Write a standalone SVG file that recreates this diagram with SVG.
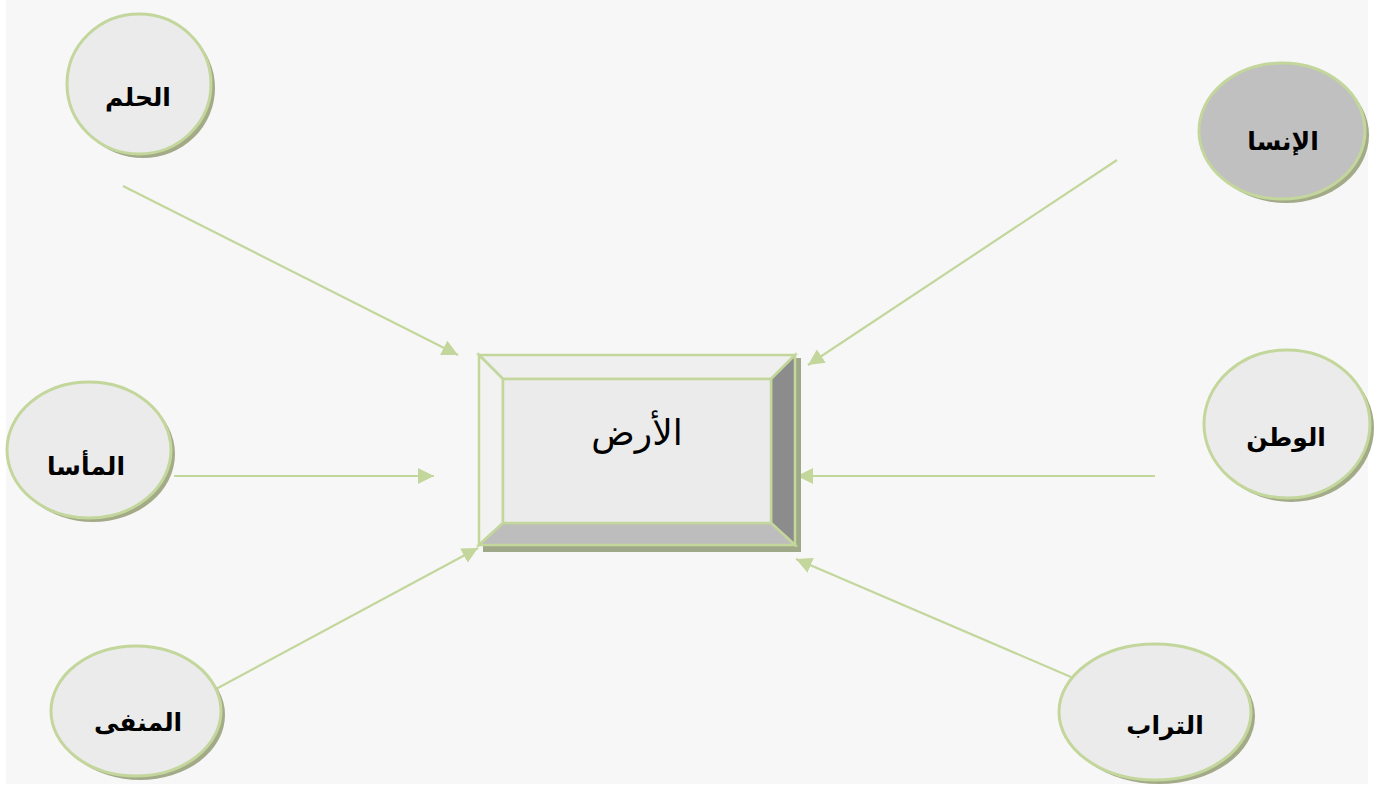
<svg xmlns="http://www.w3.org/2000/svg" width="1377" height="792" viewBox="0 0 1377 792">
<style>
.sh{fill:#a3aa88}
.nd{fill:#ebebeb;stroke:#c3d69b;stroke-width:3}
.gr{fill:#c0c0c0}
.lb{font-family:"DejaVu Sans","Liberation Sans",sans-serif;font-weight:bold;font-size:25px;fill:#000;text-anchor:middle}
.cn{stroke:#c3d69b;stroke-width:2.2;fill:none;marker-end:url(#ah)}
.bv{stroke:#c3d69b;stroke-width:2.5}
</style>
<defs>
<marker id="ah" markerUnits="userSpaceOnUse" markerWidth="18" markerHeight="16" refX="16" refY="8" orient="auto">
<path d="M0,0 L16,8 L0,16 Z" fill="#c3d69b"/>
</marker>
</defs>
<rect x="6" y="0" width="1362" height="784" fill="#f7f7f7"/>
<g id="connectors">
<line class="cn" x1="123" y1="186" x2="458" y2="355"/>
<line class="cn" x1="1117" y1="160" x2="808" y2="365"/>
<line class="cn" x1="174" y1="476" x2="434" y2="476"/>
<line class="cn" x1="1155" y1="476" x2="797" y2="476"/>
<line class="cn" x1="216" y1="689" x2="478" y2="548"/>
<line class="cn" x1="1071" y1="677" x2="796" y2="559"/>
</g>
<g id="center">
<rect x="483" y="358" width="318" height="194" fill="#a0a88a"/>
<polygon points="479,355 795,355 771,379 503,379" fill="#efefef" class="bv"/>
<polygon points="479,355 503,379 503,523 479,545" fill="#f2f2f2" class="bv"/>
<polygon points="795,355 795,545 771,523 771,379" fill="#8c8c8c" class="bv"/>
<polygon points="479,545 503,523 771,523 795,545" fill="#bdbdbd" class="bv"/>
<rect x="503" y="379" width="268" height="144" fill="#ebebeb" class="bv"/>
<text x="637" y="445" font-family="DejaVu Sans,Liberation Sans,sans-serif" font-size="36" text-anchor="middle" fill="#000">الأرض</text>
</g>
<g id="n-hulm">
<ellipse class="sh" cx="143" cy="88" rx="72" ry="70"/>
<ellipse class="nd" cx="139" cy="84" rx="72" ry="70"/>
<text class="lb" x="138" y="106">الحلم</text>
</g>
<g id="n-insa">
<ellipse class="sh" cx="1286" cy="135" rx="83" ry="68"/>
<ellipse class="nd gr" cx="1282" cy="131" rx="83" ry="68"/>
<text class="lb" x="1283" y="150">الإنسا</text>
</g>
<g id="n-masa">
<ellipse class="sh" cx="93" cy="454" rx="82" ry="68"/>
<ellipse class="nd" cx="89" cy="450" rx="82" ry="68"/>
<text class="lb" x="86" y="475">المأسا</text>
</g>
<g id="n-watan">
<ellipse class="sh" cx="1291" cy="428" rx="83" ry="74"/>
<ellipse class="nd" cx="1287" cy="424" rx="83" ry="74"/>
<text class="lb" x="1286" y="446">الوطن</text>
</g>
<g id="n-manfa">
<ellipse class="sh" cx="140" cy="715" rx="85" ry="65"/>
<ellipse class="nd" cx="136" cy="711" rx="85" ry="65"/>
<text class="lb" x="138" y="731">المنفى</text>
</g>
<g id="n-turab">
<ellipse class="sh" cx="1159" cy="716" rx="96" ry="68"/>
<ellipse class="nd" cx="1155" cy="712" rx="96" ry="68"/>
<text class="lb" x="1165" y="734">التراب</text>
</g>
</svg>
